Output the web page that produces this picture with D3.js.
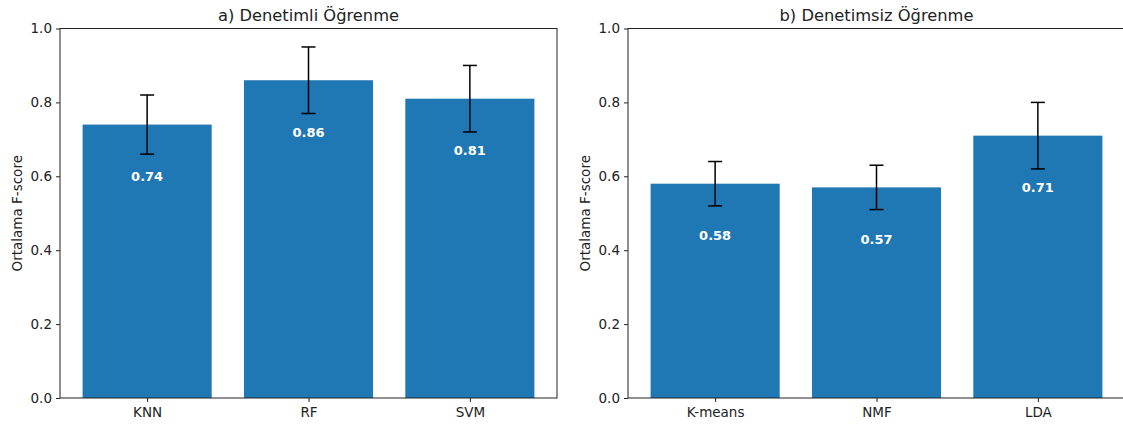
<!DOCTYPE html>
<html><head><meta charset="utf-8">
<script src="https://cdn.jsdelivr.net/npm/d3@7"></script>
<style>body{margin:0;background:#fff}svg{display:block}text{font-family:"DejaVu Sans",sans-serif}</style>
</head><body>
<svg id="c" width="1123" height="428"></svg>
<script>
const titles = ["a) Denetimli Öğrenme", "b) Denetimsiz Öğrenme"];
const categoriesA = ["KNN", "RF", "SVM"];
const valuesA = [0.74, 0.86, 0.81];
const errorsA = [0.08, 0.09, 0.09];
const categoriesB = ["K-means", "NMF", "LDA"];
const valuesB = [0.58, 0.57, 0.71];
const errorsB = [0.06, 0.06, 0.09];
const yTicks = [0.0, 0.2, 0.4, 0.6, 0.8, 1.0];
const yLabel = "Ortalama F-score";

(function () {
const svg = d3.select("#c");
const panels = [
  {title: titles[0], cats: categoriesA, vals: valuesA, errs: errorsA, left: 60},
  {title: titles[1], cats: categoriesB, vals: valuesB, errs: errorsB, left: 628}
];
const W = 497, yTop = 28.5, yBot = 398;
const color = "#1f77b4";
const fs = 13.5;

panels.forEach(p => {
  const g = svg.append("g");
  const x = d3.scaleLinear().domain([-0.54, 2.54]).range([p.left, p.left + W]);
  const y = d3.scaleLinear().domain([0, 1]).range([yBot, yTop]);
  const bw = x(0.4) - x(-0.4);
  g.selectAll("rect.bar").data(p.vals).join("rect")
    .attr("x", (d, i) => x(i) - bw / 2).attr("width", bw)
    .attr("y", d => y(d)).attr("height", d => y(0) - y(d))
    .attr("fill", color);
  const cap = 7;
  p.vals.forEach((v, i) => {
    const e = p.errs[i], cx = x(i);
    g.append("line").attr("x1", cx).attr("x2", cx).attr("y1", y(v - e)).attr("y2", y(v + e)).attr("stroke", "#000").attr("stroke-width", 1.5);
    [v - e, v + e].forEach(t => g.append("line").attr("x1", cx - cap).attr("x2", cx + cap).attr("y1", y(t)).attr("y2", y(t)).attr("stroke", "#000").attr("stroke-width", 1.5));
    g.append("text").attr("x", cx).attr("y", y(v - 0.14)).attr("dy", "0.35em")
      .attr("text-anchor", "middle").attr("fill", "#fff").attr("font-weight", "bold").attr("font-size", 13)
      .text(v.toFixed(2));
  });
  g.append("rect").attr("x", p.left).attr("y", yTop).attr("width", W).attr("height", yBot - yTop)
    .attr("fill", "none").attr("stroke", "#222").attr("stroke-width", 1);
  const ya = g.append("g").attr("transform", `translate(${p.left},0)`)
    .call(d3.axisLeft(y).tickValues(yTicks).tickFormat(d3.format(".1f")).tickSize(4).tickPadding(4));
  ya.select(".domain").remove();
  ya.selectAll("text").attr("font-size", fs).attr("fill", "#222").style("font-family", '"DejaVu Sans",sans-serif');
  ya.selectAll("line").attr("stroke", "#222");
  const xa = g.append("g").attr("transform", `translate(0,${yBot})`)
    .call(d3.axisBottom(x).tickValues([0, 1, 2]).tickFormat(i => p.cats[i]).tickSize(4).tickPadding(5));
  xa.select(".domain").remove();
  xa.selectAll("text").attr("font-size", fs).attr("fill", "#222").style("font-family", '"DejaVu Sans",sans-serif');
  xa.selectAll("line").attr("stroke", "#222");
  g.append("text").attr("x", p.left + W / 2).attr("y", 21).attr("text-anchor", "middle")
    .attr("font-size", 16.3).attr("fill", "#222").text(p.title);
  g.append("text").attr("transform", `translate(${p.left - 38},${(yTop + yBot) / 2}) rotate(-90)`)
    .attr("text-anchor", "middle").attr("font-size", fs).attr("fill", "#222").text(yLabel);
});
})();
</script>
</body></html>
